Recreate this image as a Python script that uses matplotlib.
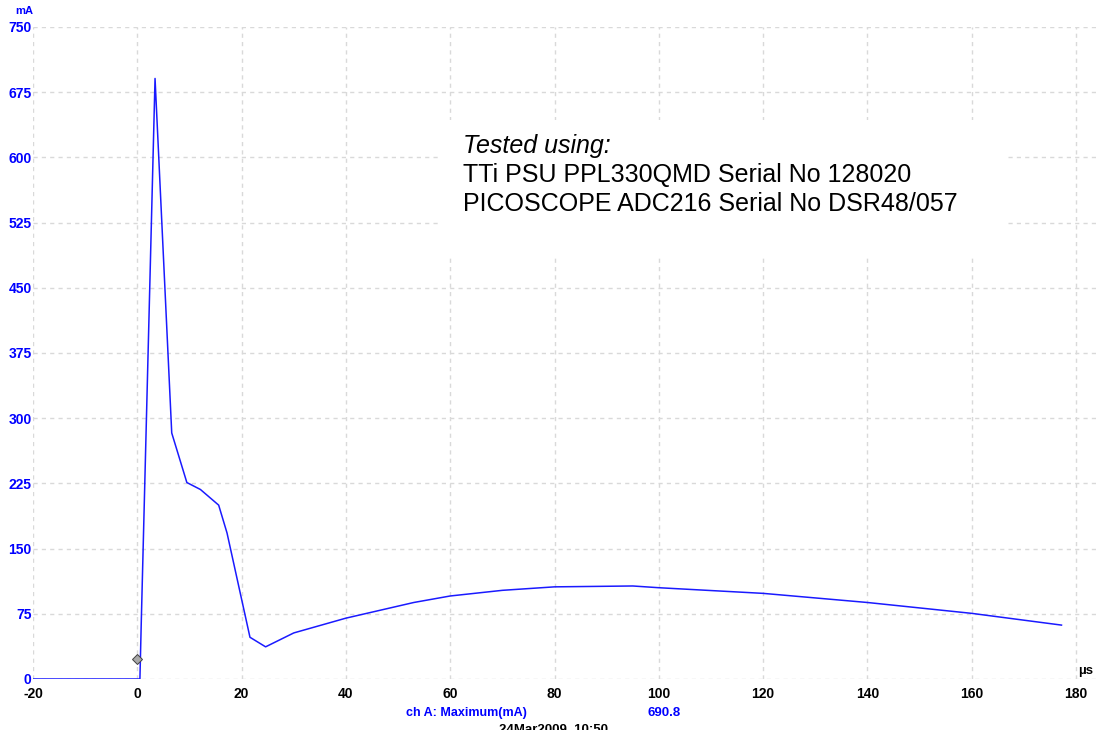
import numpy as np
import matplotlib
matplotlib.use('Agg')
import matplotlib.pyplot as plt
from matplotlib.patches import Rectangle

plt.rcParams['axes.unicode_minus'] = False

# trace (time in us, current in mA)
t_us = [-20, 0.5, 0.75, 3.4, 6.6, 9.5, 12.1, 15.6, 17.2, 21.6, 24.6,
        30, 40, 53, 60, 70, 80, 95, 100, 120, 140, 160, 177.2]
i_ma = [0, 0, 63, 690.8, 283, 226, 218, 200, 168, 48, 37,
        53, 70, 88, 95.5, 102, 106, 107, 105, 98.5, 88, 75.5, 62]

marker_t = [0]
marker_ma = [23]

x_ticks = np.arange(-20, 181, 20)
y_ticks = np.arange(0, 751, 75)

info_lines = ["Tested using:",
              "TTi PSU PPL330QMD Serial No 128020",
              "PICOSCOPE ADC216 Serial No DSR48/057"]

W, H = 1098, 738
fig = plt.figure(figsize=(W / 100, H / 100), dpi=100)
ax = fig.add_axes([33 / W, 59 / H, (W - 33) / W, 652 / H])

ax.set_xlim(-20, 184.2)
ax.set_ylim(0, 750)
for s in ax.spines.values():
    s.set_visible(False)

ax.set_xticks(x_ticks)
ax.set_yticks(y_ticks)
ax.tick_params(length=0)
ax.tick_params(axis='x', pad=6, labelsize=10, labelcolor='black')
ax.tick_params(axis='y', pad=1, labelsize=10, labelcolor='#0000ff')
for lab in ax.get_xticklabels() + ax.get_yticklabels():
    lab.set_fontfamily('Liberation Sans')
    lab.set_fontweight('bold')

ax.set_axisbelow(True)
ax.grid(True, color='#d9d9d9', linestyle=(0, (3, 3)), linewidth=1)

# white area behind the test note hides the grid
ax.add_patch(Rectangle((58.2, 486.5), 108.3, 156.5, facecolor='white',
                       edgecolor='none', zorder=1))

ax.plot(t_us, i_ma, color='#1a1aff', linewidth=1.1, zorder=3)
ax.plot(marker_t, marker_ma, marker='D', markersize=5.5, color='#a8a8a8',
        markeredgecolor='#404040', markeredgewidth=0.7, linestyle='none',
        zorder=4)

bold = dict(family='Liberation Sans', weight='bold')
fig.text(33 / W, 1 - 11 / H, 'mA', ha='right', va='center', color='#0000ff',
         fontsize=8, **bold)
fig.text(1078 / W, 1 - 671 / H, 'µs', ha='left', va='center', color='black',
         fontsize=9.5, **bold)
fig.text(406 / W, 1 - 713 / H, 'ch A: Maximum(mA)', ha='left', va='center',
         color='#0000ff', fontsize=9, **bold)
fig.text(648 / W, 1 - 713 / H, '690.8', ha='left', va='center',
         color='#0000ff', fontsize=9.5, **bold)
fig.text(499 / W, 1 - 724 / H, '24Mar2009  10:50', ha='left', va='top',
         color='black', fontsize=9.5, **bold)
# the screenshot cuts the date line off near its middle
fig.patches.append(Rectangle((0, 0), 1, 8 / H, transform=fig.transFigure,
                             facecolor='white', edgecolor='none', zorder=10))

base_y = [153, 182, 211]
for k, line in enumerate(info_lines):
    fig.text(463 / W, 1 - base_y[k] / H, line, ha='left', va='baseline',
             fontsize=18, family='Liberation Sans',
             style='italic' if k == 0 else 'normal', color='black')

fig.savefig('out.png', dpi=100)
